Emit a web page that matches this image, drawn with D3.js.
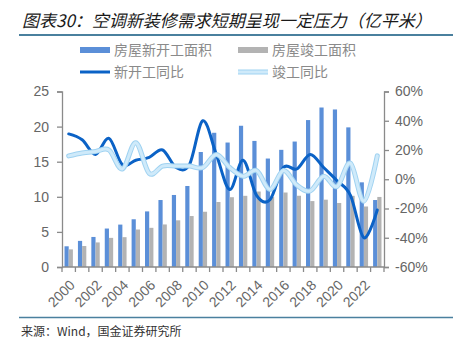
<!DOCTYPE html>
<html><head><meta charset="utf-8">
<script src="https://cdn.jsdelivr.net/npm/d3@7"></script>
<style>
html,body{margin:0;padding:0;background:#fff;}
svg{display:block;}
</style></head>
<body>
<svg id="c" width="453" height="338"></svg>
<script>
const years = ["2000","2001","2002","2003","2004","2005","2006","2007","2008","2009","2010","2011","2012","2013","2014","2015","2016","2017","2018","2019","2020","2021","2022","2023"];
const newStartArea = [2.95,3.72,4.28,5.48,6.04,6.80,7.92,9.54,10.26,11.54,16.38,19.12,17.73,20.12,17.96,15.45,16.69,17.87,20.93,22.72,22.44,19.89,12.06,9.54];
const completedArea = [2.51,2.99,3.50,4.15,4.25,5.34,5.58,6.06,6.65,7.26,7.87,9.26,9.94,10.14,10.75,10.00,10.61,10.15,9.39,9.59,9.12,10.14,8.62,9.98];
const newStartYoy = [31,27,17,28,10,13,15,20,8,10,40,17,-7,13,-11,-14,8,7,17,8,-1,-11,-40,-21];
const completedYoy = [16,18,19,20,7,25,4,9,9,9,8,17,8,2,6,-7,6,-4,-8,2,-5,11,-15,16];
const leftTicks = [0,5,10,15,20,25];
const rightTicks = [-60,-40,-20,0,20,40,60];
const xLabelYears = ["2000","2002","2004","2006","2008","2010","2012","2014","2016","2018","2020","2022"];
const legendNames = ["房屋新开工面积","房屋竣工面积","新开工同比","竣工同比"];
const titleText = "图表30：空调新装修需求短期呈现一定压力（亿平米）";
const sourceText = "来源：Wind，国金证券研究所";

const svg = d3.select("#c");
const L = 62, R = 384, T = 91.5, B = 267;
const blue = "#5b8fd8", gray = "#b3b3b3", dark = "#0b62c6", lightIn = "#cfeafa", lightOut = "#9fd2f1";
const axisCol = "#8a8a8a", labCol = "#666666";

const x = d3.scaleBand().domain(years).range([L, R]).paddingInner(0).paddingOuter(0);
const sub = d3.scaleBand().domain(["n","c"]).range([0, x.bandwidth()]).paddingInner(0).paddingOuter(0.6);
const yL = d3.scaleLinear().domain([0,25]).range([B, T]);
const yR = d3.scaleLinear().domain([-60,60]).range([B, T]);

// title
svg.append("text").attr("x",22).attr("y",27)
  .attr("font-family","'Noto Sans CJK SC'").attr("font-size",17).attr("font-style","italic")
  .attr("font-weight","normal").attr("fill","#1a1a1a").text(titleText);
svg.append("line").attr("x1",19).attr("x2",453).attr("y1",35).attr("y2",35)
  .attr("stroke","#4a809e").attr("stroke-width",2);

// bars
const g = svg.append("g");
g.selectAll("rect.n").data(years).join("rect").attr("class","n")
  .attr("x",d=>x(d)+sub("n")).attr("width",sub.bandwidth())
  .attr("y",(d,i)=>yL(newStartArea[i])).attr("height",(d,i)=>B-yL(newStartArea[i]))
  .attr("fill",blue);
g.selectAll("rect.c").data(years).join("rect").attr("class","c")
  .attr("x",d=>x(d)+sub("c")).attr("width",sub.bandwidth())
  .attr("y",(d,i)=>yL(completedArea[i])).attr("height",(d,i)=>B-yL(completedArea[i]))
  .attr("fill",gray);

// lines
const cx = d => x(d) + x.bandwidth()/2;
const lineGen = d3.line().x((d,i)=>cx(years[i])).y(d=>yR(d)).curve(d3.curveCardinal.tension(0));
g.append("path").attr("d",lineGen(newStartYoy)).attr("fill","none").attr("stroke",dark).attr("stroke-width",3).attr("stroke-linecap","round");
g.append("path").attr("d",lineGen(completedYoy)).attr("fill","none").attr("stroke",lightOut).attr("stroke-width",5).attr("stroke-linecap","round");
g.append("path").attr("d",lineGen(completedYoy)).attr("fill","none").attr("stroke",lightIn).attr("stroke-width",3).attr("stroke-linecap","round");

// axes
const ax = svg.append("g").attr("font-family","'Liberation Sans', Arial, sans-serif");
const la = ax.append("g").attr("transform",`translate(${L},0)`)
  .call(d3.axisLeft(yL).tickValues(leftTicks).tickSize(5).tickPadding(8).tickFormat(d3.format("d")));
const ra = ax.append("g").attr("transform",`translate(${R},0)`)
  .call(d3.axisRight(yR).tickValues(rightTicks).tickSize(5).tickPadding(6).tickFormat(d=>d+"%"));
[la,ra].forEach(a=>{
  a.select(".domain").attr("stroke",axisCol).attr("stroke-width",1.3);
  a.selectAll(".tick line").attr("stroke",axisCol).attr("stroke-width",1.3);
  a.selectAll(".tick text").attr("fill",labCol).attr("font-size",14).attr("font-family","'Liberation Sans', Arial, sans-serif");
});
// x axis
const xa = ax.append("g").attr("transform",`translate(0,${B})`)
  .call(d3.axisBottom(x).tickSize(0).tickFormat(""));
xa.select(".domain").attr("stroke",axisCol).attr("stroke-width",1.3).attr("d",`M${L},0H${R}`);
const edges = years.map(d=>x(d)).concat([R]);
xa.selectAll("line.edge").data(edges).join("line").attr("class","edge")
  .attr("x1",d=>d).attr("x2",d=>d).attr("y1",0).attr("y2",5)
  .attr("stroke",axisCol).attr("stroke-width",1.3);
xa.selectAll("text.xl").data(xLabelYears).join("text").attr("class","xl")
  .attr("text-anchor","end").attr("font-size",14).attr("fill",labCol)
  .attr("font-family","'Liberation Sans', Arial, sans-serif")
  .attr("transform",d=>`translate(${cx(d)+7},${19}) rotate(-45)`).text(d=>d);

// legend
const lg = svg.append("g").attr("font-family","'Noto Sans CJK SC'").attr("font-size",14).attr("fill","#8a8a8a");
const legPos = [[80,50],[238,50],[80,72],[238,72]];
lg.append("rect").attr("x",legPos[0][0]).attr("y",legPos[0][1]-3).attr("width",30).attr("height",6).attr("fill",blue);
lg.append("rect").attr("x",legPos[1][0]).attr("y",legPos[1][1]-3).attr("width",30).attr("height",6).attr("fill",gray);
lg.append("line").attr("x1",legPos[2][0]).attr("x2",legPos[2][0]+30).attr("y1",legPos[2][1]).attr("y2",legPos[2][1]).attr("stroke",dark).attr("stroke-width",3);
lg.append("line").attr("x1",legPos[3][0]).attr("x2",legPos[3][0]+30).attr("y1",legPos[3][1]).attr("y2",legPos[3][1]).attr("stroke",lightOut).attr("stroke-width",5);
lg.append("line").attr("x1",legPos[3][0]).attr("x2",legPos[3][0]+30).attr("y1",legPos[3][1]).attr("y2",legPos[3][1]).attr("stroke",lightIn).attr("stroke-width",3);
legendNames.forEach((n,i)=>{
  lg.append("text").attr("x",legPos[i][0]+34).attr("y",legPos[i][1]+5).text(n);
});

// footer
svg.append("line").attr("x1",19).attr("x2",453).attr("y1",317.5).attr("y2",317.5)
  .attr("stroke","#4a809e").attr("stroke-width",1.5);
svg.append("text").attr("x",21).attr("y",336).attr("font-family","'Noto Sans CJK SC'")
  .attr("font-size",12).attr("fill","#333").text(sourceText);
</script>
</body></html>
